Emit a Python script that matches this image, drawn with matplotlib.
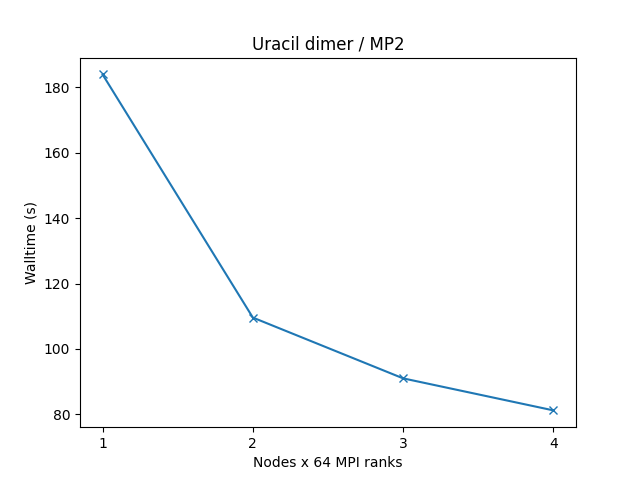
import matplotlib
matplotlib.use("Agg")
import matplotlib.pyplot as plt

nodes = [1, 2, 3, 4]
walltime = [184.0, 109.6, 91.0, 81.2]

fig, ax = plt.subplots(figsize=(6.4, 4.8), dpi=100)
ax.plot(nodes, walltime, marker="x")
ax.set_xticks(nodes)
ax.set_xlabel("Nodes x 64 MPI ranks")
ax.set_ylabel("Walltime (s)")
ax.set_title("Uracil dimer / MP2")
fig.savefig("out.png")
